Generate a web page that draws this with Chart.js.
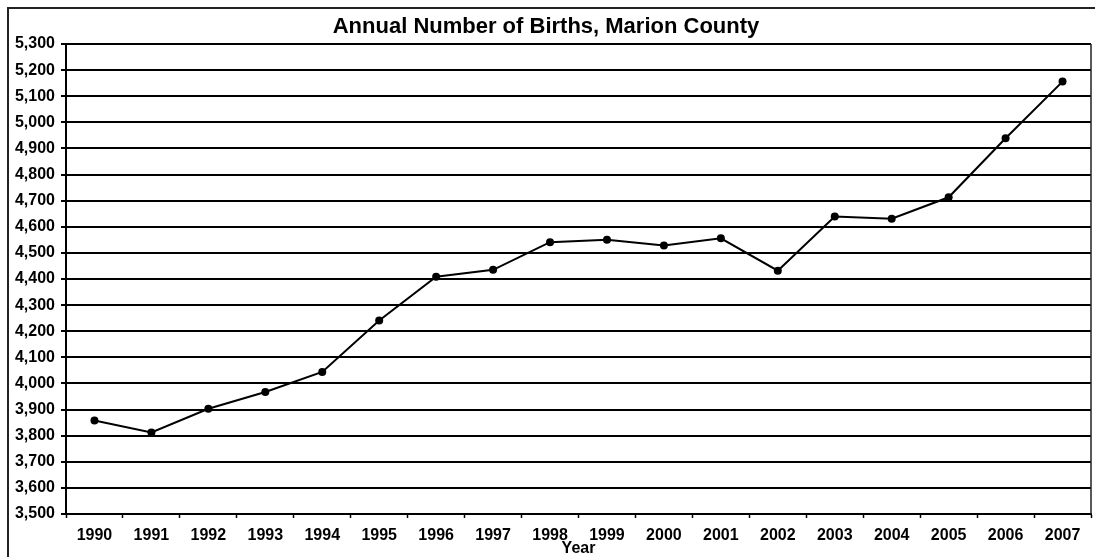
<!DOCTYPE html>
<html>
<head>
<meta charset="utf-8">
<title>Annual Number of Births, Marion County</title>
<script src="https://cdn.jsdelivr.net/npm/chart.js@4/dist/chart.umd.min.js"></script>
<style>
  body { margin: 0; background: #fff; }
  #graph-container { position: relative; width: 1095px; height: 557px; }
</style>
</head>
<body>
<div id="graph-container">
  <canvas id="births-graph"></canvas>
</div>
<script>
// Data
var YEARS = ["1990", "1991", "1992", "1993", "1994", "1995", "1996", "1997", "1998",
             "1999", "2000", "2001", "2002", "2003", "2004", "2005", "2006", "2007"];
var BIRTHS = [3858, 3812, 3903, 3967, 4044, 4241, 4409, 4435, 4541,
              4550, 4528, 4556, 4432, 4639, 4631, 4713, 4939, 5156];
var Y_MIN = 3500;
var Y_MAX = 5300;
var Y_STEP = 100;

var FONT = "'Liberation Sans', Arial, sans-serif";

/*
  NAME : framePlugin
  ROLE : draw the outer chart frame (top / left) and the right border of the plot
*/
var framePlugin = {
  id: 'frame',
  afterDraw: function (chart) {
    var ctx = chart.ctx;
    var area = chart.chartArea;
    ctx.save();
    ctx.strokeStyle = '#222';
    // outer frame
    ctx.lineWidth = 2;
    ctx.beginPath();
    ctx.moveTo(8, chart.height);
    ctx.lineTo(8, 8);
    ctx.lineTo(chart.width, 8);
    ctx.stroke();
    // plot right border
    ctx.lineWidth = 1.5;
    ctx.beginPath();
    ctx.moveTo(area.right, area.top);
    ctx.lineTo(area.right, area.bottom);
    ctx.stroke();
    ctx.restore();
  }
};

var ctx = document.getElementById('births-graph').getContext('2d');
var birthsChart = new Chart(ctx, {
  type: 'line',
  data: {
    labels: YEARS,
    datasets: [{
      label: 'Births',
      data: BIRTHS,
      borderColor: '#000',
      backgroundColor: '#000',
      borderWidth: 2,
      pointRadius: 4,
      pointBorderWidth: 0,
      tension: 0
    }]
  },
  options: {
    responsive: true,
    maintainAspectRatio: false,
    animation: false,
    layout: { padding: { left: 0, right: 3, top: 0, bottom: 0 } },
    plugins: {
      legend: { display: false },
      tooltip: { enabled: false },
      title: {
        display: true,
        text: 'Annual Number of Births, Marion County',
        color: '#000',
        font: { family: FONT, size: 22, weight: 'bold', lineHeight: 1.2 },
        padding: { top: 14, bottom: 3.6 }
      }
    },
    scales: {
      x: {
        offset: true,
        grid: {
          offset: true,
          drawOnChartArea: false,
          drawTicks: true,
          tickLength: 4,
          tickColor: '#000',
          tickWidth: 1.5
        },
        border: { display: true, color: '#000', width: 2 },
        ticks: {
          color: '#000',
          padding: 8,
          maxRotation: 0,
          autoSkip: false,
          font: { family: FONT, size: 16, weight: 'bold' }
        },
        title: {
          display: true,
          text: 'Year',
          color: '#000',
          font: { family: FONT, size: 16, weight: 'bold', lineHeight: 1 },
          padding: 0
        },
        afterFit: function (scale) { scale.height = 43; }
      },
      y: {
        min: Y_MIN,
        max: Y_MAX,
        grid: {
          color: '#000',
          lineWidth: 2,
          tickLength: 5,
          tickColor: '#000'
        },
        border: { display: true, color: '#000', width: 2 },
        ticks: {
          stepSize: Y_STEP,
          color: '#000',
          padding: 6,
          font: { family: FONT, size: 16, weight: 'bold' },
          callback: function (value) { return value.toLocaleString('en-US'); }
        },
        afterFit: function (scale) { scale.width = 66; }
      }
    }
  },
  plugins: [framePlugin]
});
</script>
</body>
</html>
